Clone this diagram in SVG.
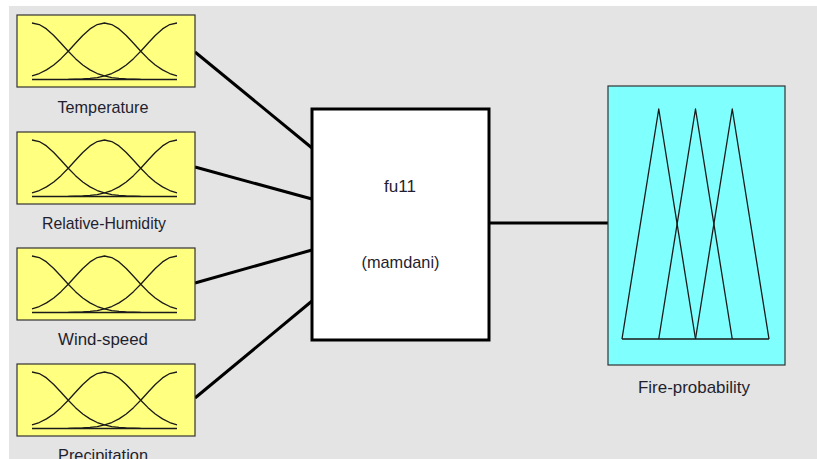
<svg xmlns="http://www.w3.org/2000/svg" width="817" height="459" viewBox="0 0 817 459">
<style>
.in{fill:#ffff80;stroke:#333;stroke-width:1.2}
.out{fill:#80ffff;stroke:#333;stroke-width:1.2}
.sys{fill:#fff;stroke:#000;stroke-width:3}
.mf{fill:none;stroke:#1a1a1a;stroke-width:1.3;stroke-linejoin:round}
.lbl{font-family:"Liberation Sans",Arial,sans-serif;font-size:17px;fill:#1f1f2f;text-anchor:middle}
.conn{stroke:#000;stroke-width:3;fill:none}
</style>
<defs>
<g id="mfcurves" class="mf">
<polyline points="15,8 22.25,9.54 29.5,13.93 36.75,20.47 44,28.23 51.25,36.23 58.5,43.66 65.75,49.96 73,54.91 80.25,58.51 87.5,60.96 94.75,62.52 102,63.45 109.25,63.98 116.5,64.25 123.75,64.4"/>
<polyline points="15,60.96 22.25,58.51 29.5,54.91 36.75,49.96 44,43.66 51.25,36.23 58.5,28.23 65.75,20.47 73,13.93 80.25,9.54 87.5,8 94.75,9.54 102,13.93 109.25,20.47 116.5,28.23 123.75,36.23 131,43.66 138.25,49.96 145.5,54.91 152.75,58.51 160,60.96"/>
<polyline points="51.25,64.4 58.5,64.25 65.75,63.98 73,63.45 80.25,62.52 87.5,60.96 94.75,58.51 102,54.91 109.25,49.96 116.5,43.66 123.75,36.23 131,28.23 138.25,20.47 145.5,13.93 152.75,9.54 160,8"/>
<polyline points="15,64.5 160,64.5"/>
</g>
</defs>
<rect x="0" y="0" width="817" height="459" fill="#fff"/>
<rect x="9" y="6" width="808" height="453" fill="#e4e4e4"/>
<g id="connectors">
<line class="conn" x1="195" y1="52" x2="312" y2="148"/>
<line class="conn" x1="195" y1="167" x2="312" y2="199"/>
<line class="conn" x1="195" y1="283" x2="312" y2="250"/>
<line class="conn" x1="195" y1="398" x2="312" y2="301"/>
<line class="conn" x1="489" y1="223" x2="608" y2="223"/>
</g>
<g id="temperature">
<rect class="in" x="17" y="15" width="178" height="72"/>
<use href="#mfcurves" transform="translate(17,15)"/>
<text class="lbl" x="103" y="113" textLength="91" lengthAdjust="spacingAndGlyphs">Temperature</text>
</g>
<g id="relative-humidity">
<rect class="in" x="17" y="132" width="178" height="72"/>
<use href="#mfcurves" transform="translate(17,132)"/>
<text class="lbl" x="104" y="229" textLength="124" lengthAdjust="spacingAndGlyphs">Relative-Humidity</text>
</g>
<g id="wind-speed">
<rect class="in" x="17" y="248" width="178" height="72"/>
<use href="#mfcurves" transform="translate(17,248)"/>
<text class="lbl" x="103" y="345" textLength="90" lengthAdjust="spacingAndGlyphs">Wind-speed</text>
</g>
<g id="precipitation">
<rect class="in" x="17" y="364" width="178" height="72"/>
<use href="#mfcurves" transform="translate(17,364)"/>
<text class="lbl" x="103" y="461" textLength="90" lengthAdjust="spacingAndGlyphs">Precipitation</text>
</g>
<g id="fu11">
<rect class="sys" x="312" y="109" width="177" height="231"/>
<text class="lbl" x="400" y="192" textLength="32" lengthAdjust="spacingAndGlyphs">fu11</text>
<text class="lbl" x="400.5" y="268" textLength="78" lengthAdjust="spacingAndGlyphs">(mamdani)</text>
</g>
<g id="fire-probability">
<rect class="out" x="608" y="86" width="177" height="279"/>
<g class="mf">
<polyline points="622,339 658.75,109 695.5,339"/>
<polyline points="658.75,339 695.5,109 732.25,339"/>
<polyline points="695.5,339 732.25,109 769,339"/>
<polyline points="622,339 769,339"/>
</g>
<text class="lbl" x="694" y="393" textLength="112" lengthAdjust="spacingAndGlyphs">Fire-probability</text>
</g>
</svg>
